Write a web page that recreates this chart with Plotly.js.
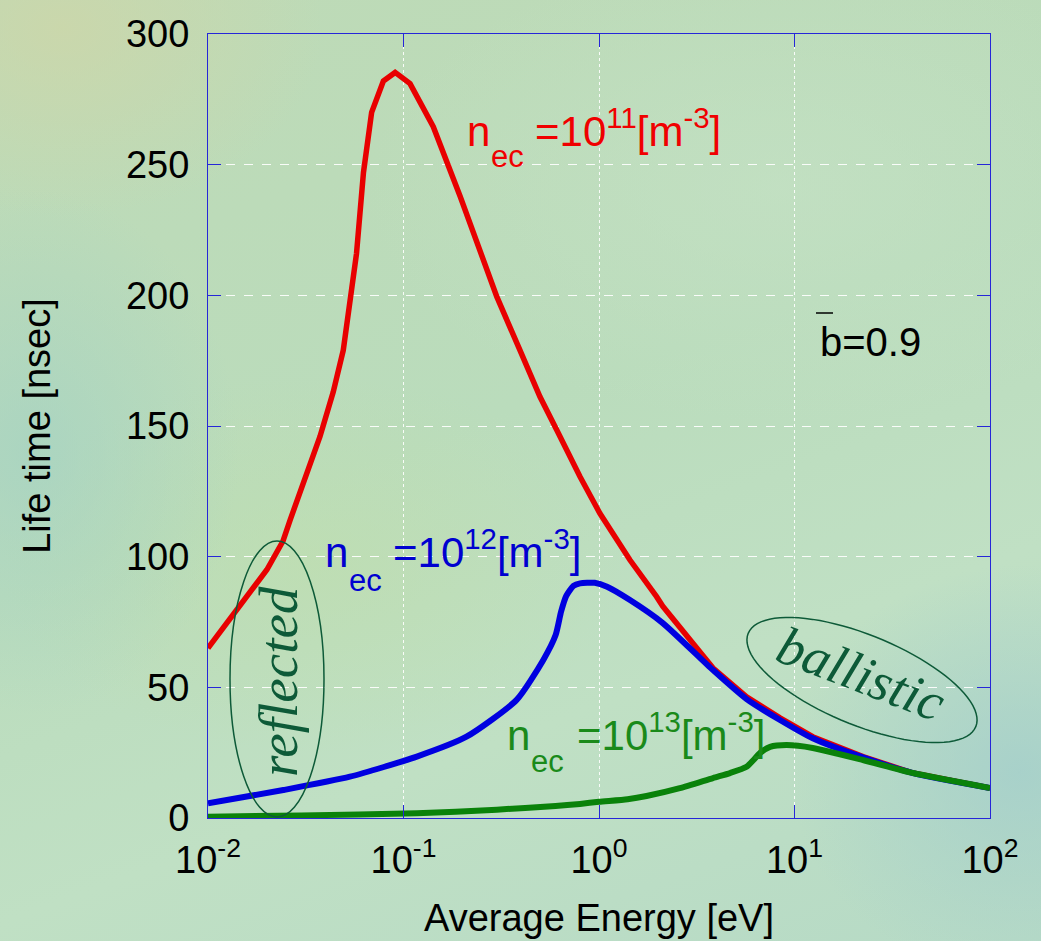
<!DOCTYPE html>
<html>
<head>
<meta charset="utf-8">
<script src="https://cdn.plot.ly/plotly-3.0.1.min.js"></script>
<style>
  html, body { margin: 0; padding: 0; }
  body {
    width: 1041px; height: 941px; overflow: hidden;
    background:
      radial-gradient(ellipse 25% 20% at 6% 3%, rgba(206,214,168,0.75), rgba(206,214,168,0) 100%),
      radial-gradient(ellipse 20% 28% at 3% 48%, rgba(160,208,196,0.6), rgba(160,208,196,0) 100%),
      radial-gradient(ellipse 22% 22% at 98% 82%, rgba(160,204,204,0.7), rgba(160,204,204,0) 100%),
      radial-gradient(ellipse 30% 20% at 30% 60%, rgba(192,222,172,0.6), rgba(192,222,172,0) 100%),
      radial-gradient(ellipse 40% 25% at 75% 20%, rgba(198,226,198,0.6), rgba(198,226,198,0) 100%),
      linear-gradient(160deg, #bedab6 0%, #badcbc 45%, #c0e0c4 70%, #b6dac6 100%);
  }
  #chart { width: 1041px; height: 941px; }
</style>
</head>
<body>
<div id="chart"></div>
<script>
// ---------------- data ----------------
const redX   = [0.01, 0.0152, 0.020, 0.0242, 0.0263, 0.0374, 0.0437, 0.0492, 0.0575, 0.0624, 0.0687, 0.0789, 0.0906, 0.108, 0.142, 0.195, 0.246, 0.30, 0.394, 0.499, 0.608, 0.80, 1.01, 1.44, 1.97, 2.12, 3.83, 5.69, 8.43, 12.4, 22.4, 40.4, 100];
const redY   = [65, 83, 95, 106, 114, 146, 163, 179, 216, 247, 270, 282, 285.3, 281, 264.5, 237.8, 217.4, 199.5, 179, 161.2, 148.5, 130.6, 116.6, 98.7, 84.7, 81, 57.4, 46.4, 38.3, 31.1, 23.5, 17.2, 11.5];

const blueX  = [0.01, 0.0243, 0.0532, 0.117, 0.21, 0.379, 0.519, 0.60, 0.64, 0.68, 0.74, 0.80, 0.95, 1.1, 1.44, 2.12, 3.83, 5.69, 8.43, 12.4, 22.4, 40.4, 100];
const blueY  = [5.6, 10.7, 15.8, 23.5, 31.1, 45.2, 60.5, 70, 79, 85, 88.8, 89.8, 90, 88.5, 83.4, 74.6, 56.6, 45.5, 37.5, 30.5, 23.2, 17.2, 11.5];

const greenX = [0.01, 0.03, 0.117, 0.3, 0.6, 0.8, 1.0, 1.4, 1.75, 2.59, 3.83, 4.68, 5.69, 6.17, 6.67, 7.5, 9.1, 12.4, 22.4, 40.4, 100];
const greenY = [0.5, 1.0, 1.8, 3.2, 4.6, 5.4, 6.2, 7.2, 8.4, 11.4, 15.3, 17.2, 19.6, 22.2, 24.9, 27.2, 27.9, 26.8, 22.2, 17.2, 11.5];

const xTickVals = [0.01, 0.1, 1, 10, 100];
const xTickText = ['10<sup>-2</sup>', '10<sup>-1</sup>', '10<sup>0</sup>', '10<sup>1</sup>', '10<sup>2</sup>'];
const yTickVals = [0, 50, 100, 150, 200, 250, 300];
const yTickText = ['0', '50', '100', '150', '200', '250', '300'];

const labelBase = ['n', 'n', 'n'];
const labelSub  = ['ec', 'ec', 'ec'];
const labelRest = [
  '=10<sup>11</sup>[m<sup>-3</sup>]',
  '=10<sup>12</sup>[m<sup>-3</sup>]',
  '=10<sup>13</sup>[m<sup>-3</sup>]'
];
const bText = 'b=0.9';
const regionLabels = ['reflected', 'ballistic'];
const xTitle = 'Average Energy [eV]';
const yTitle = 'Life time [nsec]';

// ---------------- layout helpers (pixel -> paper) ----------------
const W = 1041, H = 941;
const ML = 208, MR = 51, MT = 34, MB = 123;
const PW = W - ML - MR, PH = H - MT - MB;
const fx = px => (px - ML) / PW;
const fy = py => (H - MB - py) / PH;

const axisBlue = '#2626d8';
const sans = 'Liberation Sans, Arial, sans-serif';
const serif = 'Liberation Serif, Times New Roman, serif';
const ellColor = '#0d5a38';
const labelColors = ['#f00000', '#0000d0', '#1a8a1a'];

// rotated ellipse path for "ballistic"
function ellipsePath(cx, cy, a, b, deg) {
  const th = deg * Math.PI / 180;
  let d = '';
  const n = 90;
  for (let i = 0; i <= n; i++) {
    const t = 2 * Math.PI * i / n;
    const sx = cx + a * Math.cos(t) * Math.cos(th) - b * Math.sin(t) * Math.sin(th);
    const sy = cy + a * Math.cos(t) * Math.sin(th) + b * Math.sin(t) * Math.cos(th);
    d += (i === 0 ? 'M' : 'L') + fx(sx).toFixed(5) + ',' + fy(sy).toFixed(5);
  }
  return d + 'Z';
}

const traces = [
  { x: redX, y: redY, mode: 'lines', line: { color: '#e80000', width: 5.5 }, hoverinfo: 'skip' },
  { x: blueX, y: blueY, mode: 'lines', line: { color: '#0000e0', width: 6, shape: 'spline', smoothing: 0.6 }, hoverinfo: 'skip' },
  { x: greenX, y: greenY, mode: 'lines', line: { color: '#0a820a', width: 6, shape: 'spline', smoothing: 0.6 }, hoverinfo: 'skip' }
];

// label positions (pixels): [n left, baseline, ec left, ec baseline, rest left]
const labelPos = [
  [465, 147, 489, 168, 533],
  [323, 568, 347, 592, 391],
  [505, 751, 529, 773, 575]
];
const BOTTOM_PAD = 10;

const annotations = [];
labelPos.forEach((p, i) => {
  const f = { family: sans, size: 42, color: labelColors[i] };
  annotations.push({ xref: 'paper', yref: 'paper', x: fx(p[0]), y: fy(p[1] + BOTTOM_PAD), xanchor: 'left', yanchor: 'bottom',
    text: labelBase[i], showarrow: false, font: f });
  annotations.push({ xref: 'paper', yref: 'paper', x: fx(p[2]), y: fy(p[3] + 8), xanchor: 'left', yanchor: 'bottom',
    text: labelSub[i], showarrow: false, font: { family: sans, size: 31, color: labelColors[i] } });
  annotations.push({ xref: 'paper', yref: 'paper', x: fx(p[4]), y: fy(p[1] + BOTTOM_PAD), xanchor: 'left', yanchor: 'bottom',
    text: labelRest[i], showarrow: false, font: f });
});
annotations.push({ xref: 'paper', yref: 'paper', x: fx(818), y: fy(342), xanchor: 'left', yanchor: 'middle',
  text: bText, showarrow: false, font: { family: sans, size: 40, color: '#000' } });
annotations.push({ xref: 'paper', yref: 'paper', x: fx(278), y: fy(682), xanchor: 'center', yanchor: 'middle',
  text: '<i>' + regionLabels[0] + '</i>', textangle: -90, showarrow: false,
  font: { family: serif, size: 55, color: ellColor } });
annotations.push({ xref: 'paper', yref: 'paper', x: fx(861), y: fy(674), xanchor: 'center', yanchor: 'middle',
  text: '<i>' + regionLabels[1] + '</i>', textangle: 21, showarrow: false,
  font: { family: serif, size: 54, color: ellColor } });

const layout = {
  width: W, height: H,
  margin: { l: ML, r: MR, t: MT, b: MB, pad: 0 },
  paper_bgcolor: 'rgba(0,0,0,0)',
  plot_bgcolor: 'rgba(0,0,0,0)',
  showlegend: false,
  font: { family: sans, color: '#000' },
  xaxis: {
    type: 'log', range: [-2, 2], autorange: false,
    tickmode: 'array', tickvals: xTickVals, ticktext: xTickText,
    ticks: 'inside', ticklen: 13, tickwidth: 1, tickcolor: axisBlue,
    showline: true, linecolor: axisBlue, linewidth: 1, mirror: 'ticks',
    showgrid: true, gridcolor: 'rgba(255,255,255,0.9)', gridwidth: 1, griddash: 'dot',
    zeroline: false,
    tickfont: { family: sans, size: 38, color: '#000' },
    ticklabelstandoff: 8,
    title: { text: xTitle, font: { family: sans, size: 38, color: '#000' }, standoff: 24 },
    automargin: false
  },
  yaxis: {
    range: [0, 300], autorange: false,
    tickmode: 'array', tickvals: yTickVals, ticktext: yTickText,
    ticks: 'inside', ticklen: 13, tickwidth: 1, tickcolor: axisBlue,
    showline: true, linecolor: axisBlue, linewidth: 1, mirror: 'ticks',
    showgrid: true, gridcolor: 'rgba(255,255,255,0.9)', gridwidth: 1, griddash: 'dash',
    zeroline: false,
    tickfont: { family: sans, size: 38, color: '#000' },
    ticklabelstandoff: 10,
    title: { text: yTitle, font: { family: sans, size: 38, color: '#000' }, standoff: 63 },
    automargin: false
  },
  annotations: annotations,
  shapes: [
    { type: 'circle', xref: 'paper', yref: 'paper',
      x0: fx(230), x1: fx(324), y0: fy(817), y1: fy(541),
      line: { color: ellColor, width: 1.5 } },
    { type: 'path', xref: 'paper', yref: 'paper',
      path: ellipsePath(862, 680, 123, 45, 22.3),
      line: { color: ellColor, width: 1.5 } },
    { type: 'line', xref: 'paper', yref: 'paper',
      x0: fx(816), x1: fx(833), y0: fy(313), y1: fy(313),
      line: { color: '#000', width: 1.5 } }
  ]
};

Plotly.newPlot('chart', traces, layout, { staticPlot: true, displayModeBar: false });
</script>
</body>
</html>
